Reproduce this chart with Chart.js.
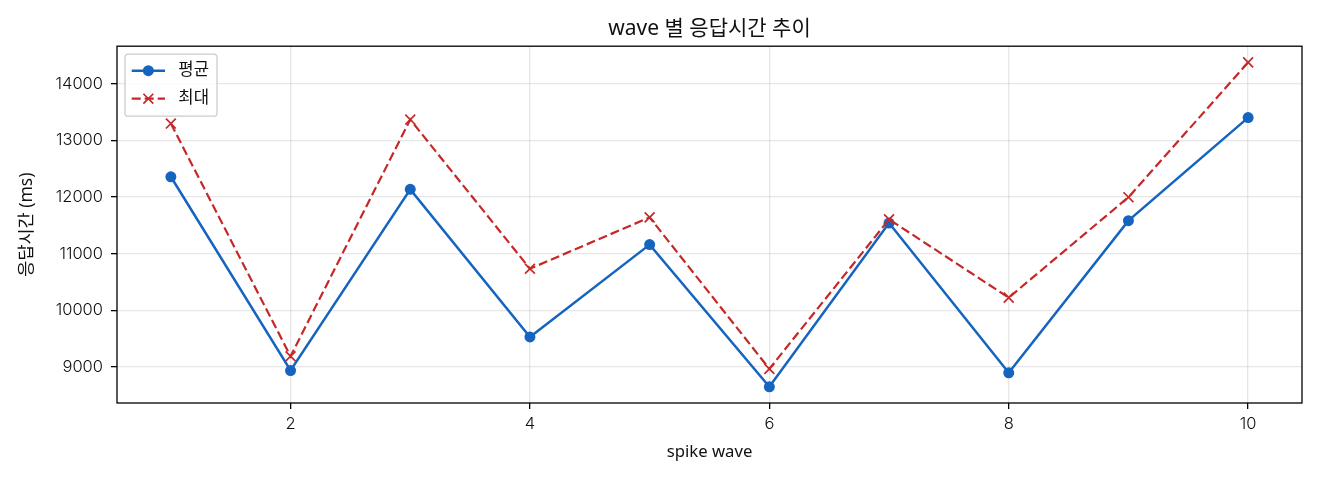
<!DOCTYPE html>
<html lang="ko">
<head>
<meta charset="utf-8">
<title>wave 별 응답시간 추이</title>
<script src="https://cdn.jsdelivr.net/npm/chart.js@4.4.1/dist/chart.umd.min.js"></script>
<style>
  html, body { margin: 0; padding: 0; background: #fff; }
  #wrap { width: 1320px; height: 480px; }
</style>
</head>
<body>
<div id="wrap"><canvas id="chart" width="1320" height="480"></canvas></div>
<script>
// spike wave 번호
const waves = [1, 2, 3, 4, 5, 6, 7, 8, 9, 10];
// 평균 응답시간 (ms)
const avgMs = [12356, 8935, 12134, 9528, 11158, 8648, 11539, 8894, 11581, 13401];
// 최대 응답시간 (ms)
const maxMs = [13296, 9187, 13366, 10732, 11639, 8965, 11604, 10222, 11995, 14375];
// 눈금
const xTicks = [2, 4, 6, 8, 10];
const yTicks = [9000, 10000, 11000, 12000, 13000, 14000];

const FONT = "'Noto Sans', 'Noto Sans CJK KR', sans-serif";
const NUM_FONT = "Inter, 'Noto Sans', sans-serif";
const TXT = '#111';

// matplotlib 처럼 데이터 범위에 5% 여백
function padRange(vals) {
    const lo = Math.min(...vals), hi = Math.max(...vals);
    const m = (hi - lo) * 0.05;
    return [lo - m, hi + m];
}
const [xMin, xMax] = padRange(waves);
const [yMin, yMax] = padRange(avgMs.concat(maxMs));

// 테두리 + 범례 (축 안쪽 좌상단)
const frameAndLegend = {
    id: 'frameAndLegend',
    afterDatasetsDraw(chart) {
        const { ctx, chartArea: a } = chart;
        ctx.save();
        ctx.strokeStyle = '#000';
        ctx.lineWidth = 1.3;
        ctx.strokeRect(a.left, a.top, a.right - a.left, a.bottom - a.top);

        const fs = 16.7;
        ctx.font = `${fs}px ${FONT}`;
        const items = chart.data.datasets;
        const textW = Math.max(...items.map(d => ctx.measureText(d.label).width));
        const bx = a.left + 8, by = a.top + 8;
        const bw = 6.7 + 33.3 + 13.3 + textW + 8;
        const bh = 62;
        ctx.beginPath();
        ctx.roundRect(bx, by, bw, bh, 3.3);
        ctx.fillStyle = 'rgba(255,255,255,0.8)';
        ctx.fill();
        ctx.strokeStyle = '#cccccc';
        ctx.lineWidth = 1.3;
        ctx.stroke();

        items.forEach((d, i) => {
            const cy = by + 16.5 + i * 28;
            const x1 = bx + 6.7, x2 = x1 + 33.3, cx = (x1 + x2) / 2;
            ctx.strokeStyle = d.borderColor;
            ctx.lineWidth = d.borderWidth;
            ctx.setLineDash(d.borderDash || []);
            ctx.beginPath();
            ctx.moveTo(x1, cy);
            ctx.lineTo(x2, cy);
            ctx.stroke();
            ctx.setLineDash([]);
            if (d.pointStyle === 'circle') {
                ctx.fillStyle = d.pointBackgroundColor;
                ctx.beginPath();
                ctx.arc(cx, cy, d.pointRadius, 0, Math.PI * 2);
                ctx.fill();
            } else {
                const r = d.pointRadius * Math.SQRT1_2;
                ctx.strokeStyle = d.pointBorderColor;
                ctx.lineWidth = d.pointBorderWidth;
                ctx.beginPath();
                ctx.moveTo(cx - r, cy - r); ctx.lineTo(cx + r, cy + r);
                ctx.moveTo(cx - r, cy + r); ctx.lineTo(cx + r, cy - r);
                ctx.stroke();
            }
            ctx.fillStyle = TXT;
            ctx.textBaseline = 'middle';
            ctx.textAlign = 'left';
            ctx.fillText(d.label, x2 + 13.3, cy);
        });
        ctx.restore();
    }
};

const gridOpts = {
    color: 'rgba(176,176,176,0.3)',
    lineWidth: 1.3,
    tickLength: 6,
    tickColor: '#000',
    tickWidth: 1.3
};

const ctx = document.getElementById('chart').getContext('2d');
const chart = new Chart(ctx, {
    type: 'line',
    data: {
        datasets: [{
            label: '평균',
            data: waves.map((w, i) => ({ x: w, y: avgMs[i] })),
            borderColor: '#1565c0',
            backgroundColor: '#1565c0',
            borderWidth: 2.5,
            pointStyle: 'circle',
            pointRadius: 5.5,
            pointBackgroundColor: '#1565c0',
            pointBorderColor: '#1565c0',
            pointBorderWidth: 0,
            tension: 0,
            order: 1
        }, {
            label: '최대',
            data: waves.map((w, i) => ({ x: w, y: maxMs[i] })),
            borderColor: '#c62828',
            backgroundColor: '#c62828',
            borderWidth: 2.2,
            borderDash: [9, 4],
            pointStyle: 'crossRot',
            pointRadius: 7,
            pointBorderColor: '#c62828',
            pointBorderWidth: 1.7,
            tension: 0,
            order: 0
        }]
    },
    options: {
        responsive: false,
        animation: false,
        devicePixelRatio: 1,
        layout: { padding: { left: 0, right: 18, top: 0, bottom: 0 } },
        plugins: {
            legend: { display: false },
            tooltip: { enabled: false },
            title: {
                display: true,
                fullSize: false, // 제목을 플롯 영역 위 가운데에
                text: 'wave 별 응답시간 추이',
                color: TXT,
                font: { family: FONT, size: 21, weight: 'normal' },
                padding: { top: 16, bottom: 5 }
            }
        },
        scales: {
            x: {
                type: 'linear',
                min: xMin,
                max: xMax,
                afterBuildTicks: s => { s.ticks = xTicks.map(v => ({ value: v })); },
                ticks: { color: TXT, font: { family: NUM_FONT, size: 16.5, weight: 300 }, padding: 5, maxRotation: 0, autoSkip: false },
                grid: gridOpts,
                border: { display: false },
                title: {
                    display: true,
                    text: 'spike wave',
                    color: TXT,
                    font: { family: FONT, size: 16.7 },
                    padding: { top: 0, bottom: 18 }
                },
                afterFit: s => { s.height = 77; }
            },
            y: {
                type: 'linear',
                min: yMin,
                max: yMax,
                afterBuildTicks: s => { s.ticks = yTicks.map(v => ({ value: v })); },
                ticks: { color: TXT, font: { family: NUM_FONT, size: 16.5, weight: 300 }, padding: 8, callback: v => String(v) },
                grid: gridOpts,
                border: { display: false },
                title: {
                    display: true,
                    text: '응답시간 (ms)',
                    color: TXT,
                    font: { family: FONT, size: 17.5 },
                    padding: { top: 17, bottom: 0 }
                },
                afterFit: s => { s.width = 117; }
            }
        }
    },
    plugins: [frameAndLegend]
});
</script>
</body>
</html>
